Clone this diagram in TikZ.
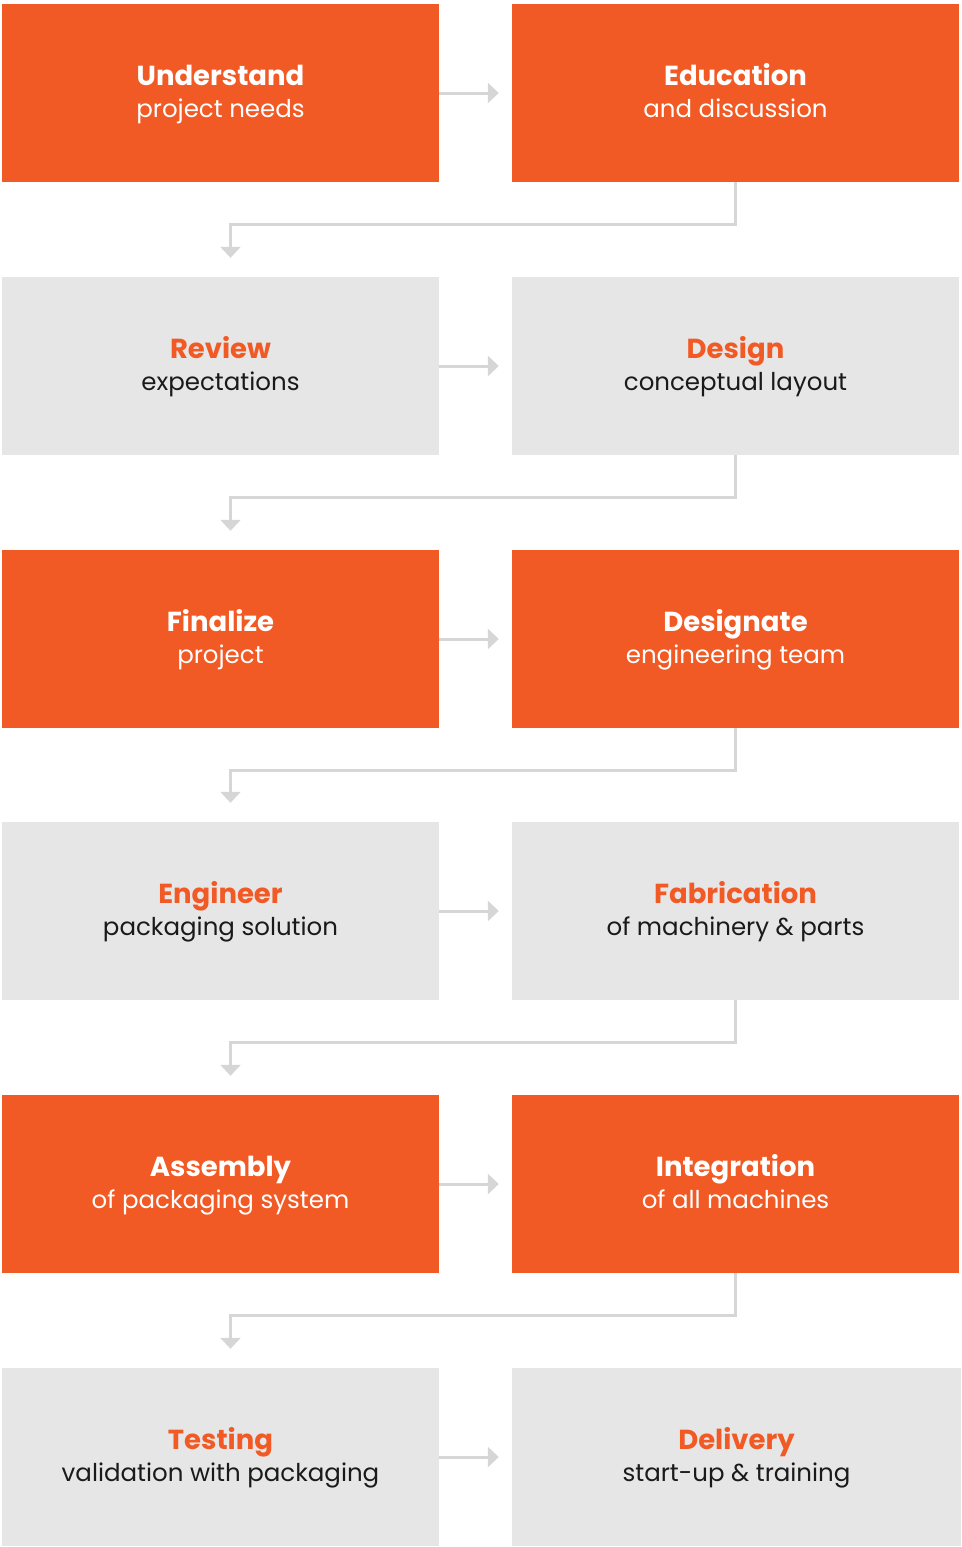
\documentclass[tikz,border=0pt]{standalone}
\usepackage{fontspec}
\setmainfont{Poppins}
\usetikzlibrary{arrows.meta}
\definecolor{brandorange}{HTML}{F15A24}
\definecolor{boxgray}{HTML}{E6E6E6}
\definecolor{linkgray}{HTML}{D6D6D6}
\definecolor{textdark}{HTML}{1A1A1A}
\newcommand\stepname[1]{{\fontsize{27.5}{32.5}\selectfont\bfseries #1}}
\newcommand\hotname[1]{{\color{brandorange}\stepname{#1}}}
\newcommand\steplabel[2]{\smash{#1}\rule{0pt}{24pt}\\\smash{#2}\rule[-7pt]{0pt}{7pt}}
\tikzset{
  stepbox/.style={rectangle, minimum width=437pt, minimum height=178pt, inner sep=0pt,
    align=center, font=\fontsize{24.5}{32.5}\selectfont},
  hot/.style={stepbox, fill=brandorange, text=white},
  cool/.style={stepbox, fill=boxgray, text=textdark},
  wide/.style={minimum width=447pt},
  link/.style={draw=linkgray, line width=3pt, -{Triangle[width=20pt,length=11pt]}},
}

\begin{document}
\begin{tikzpicture}[x=1pt,y=-1pt]
\useasboundingbox (0,0) rectangle (961,1547);
% steps, left and right column
\node[hot] (understand) at (220.5,93) {\steplabel{\stepname{Understand}}{project needs}};
\node[hot,wide] (education) at (735.5,93) {\steplabel{\stepname{Education}}{and discussion}};
\node[cool] (review) at (220.5,366) {\steplabel{\hotname{Review}}{expectations}};
\node[cool,wide] (design) at (735.5,366) {\steplabel{\hotname{Design}}{conceptual layout}};
\node[hot] (finalize) at (220.5,639) {\steplabel{\stepname{Finalize}}{project}};
\node[hot,wide] (designate) at (735.5,639) {\steplabel{\stepname{Designate}}{engineering team}};
\node[cool] (engineer) at (220.5,911) {\steplabel{\hotname{Engineer}}{packaging solution}};
\node[cool,wide] (fabrication) at (735.5,911) {\steplabel{\hotname{Fabrication}}{of machinery \& parts}};
\node[hot] (assembly) at (220.5,1184) {\steplabel{\stepname{Assembly}}{of packaging system}};
\node[hot,wide] (integration) at (735.5,1184) {\steplabel{\stepname{Integration}}{of all machines}};
\node[cool] (testing) at (220.5,1457) {\steplabel{\hotname{Testing}}{validation with packaging}};
\node[cool,wide,minimum width=449pt] (delivery) at (736.5,1457) {\steplabel{\hotname{Delivery}}{start-up \& training}};
% across
\draw[link] (understand.east) -- ([xshift=-13pt]education.west);
\draw[link] (review.east) -- ([xshift=-13pt]design.west);
\draw[link] (finalize.east) -- ([xshift=-13pt]designate.west);
\draw[link] (engineer.east) -- ([xshift=-13pt]fabrication.west);
\draw[link] (assembly.east) -- ([xshift=-13pt]integration.west);
\draw[link] (testing.east) -- ([xshift=-13pt]delivery.west);
% back to the next row
\draw[link] (education.south) -- ++(0,42) -| ([xshift=10pt,yshift=19pt]review.north);
\draw[link] (design.south) -- ++(0,42) -| ([xshift=10pt,yshift=19pt]finalize.north);
\draw[link] (designate.south) -- ++(0,42) -| ([xshift=10pt,yshift=19pt]engineer.north);
\draw[link] (fabrication.south) -- ++(0,42) -| ([xshift=10pt,yshift=19pt]assembly.north);
\draw[link] (integration.south) -- ++(0,42) -| ([xshift=10pt,yshift=19pt]testing.north);
\end{tikzpicture}
\end{document}
